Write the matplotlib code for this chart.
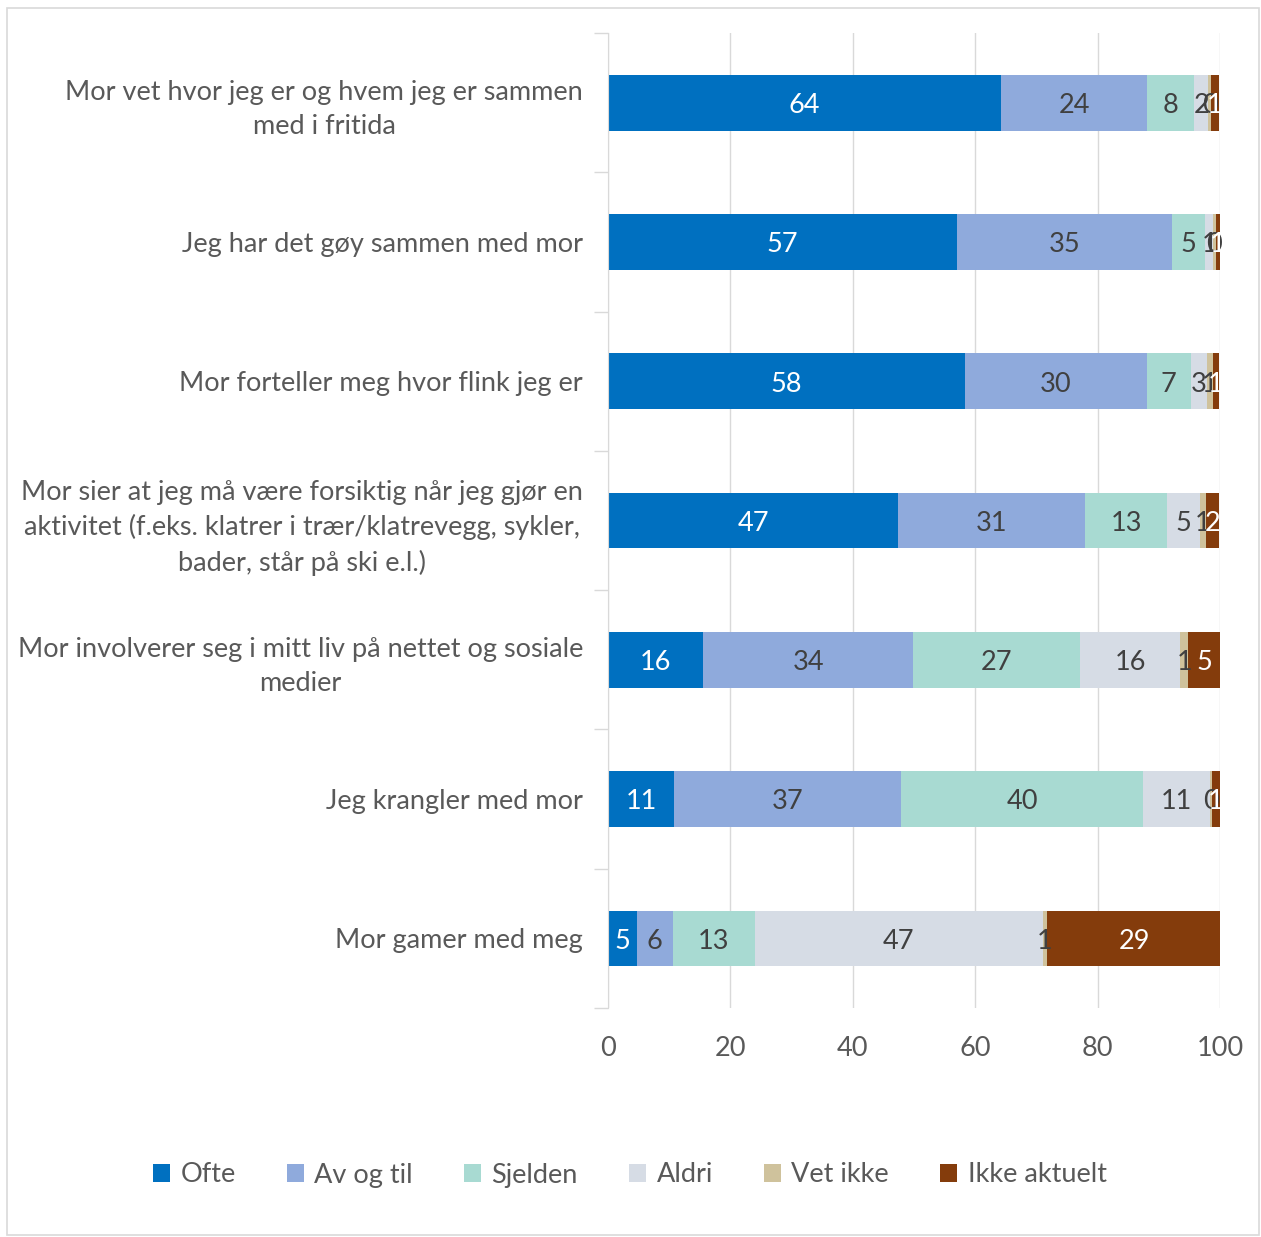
import matplotlib
matplotlib.use("Agg")
import matplotlib.pyplot as plt
from matplotlib.patches import Rectangle
import numpy as np

plt.rcParams['font.family'] = ['Lato', 'DejaVu Sans']

categories = [
    "Mor vet hvor jeg er og hvem jeg er sammen\nmed i fritida",
    "Jeg har det gøy sammen med mor",
    "Mor forteller meg hvor flink jeg er",
    "Mor sier at jeg må være forsiktig når jeg gjør en\naktivitet (f.eks. klatrer i trær/klatrevegg, sykler,\nbader, står på ski e.l.)",
    "Mor involverer seg i mitt liv på nettet og sosiale\nmedier",
    "Jeg krangler med mor",
    "Mor gamer med meg",
]
series_names = ["Ofte", "Av og til", "Sjelden", "Aldri", "Vet ikke", "Ikke aktuelt"]
ofte = [64.2, 57.0, 58.4, 47.4, 15.6, 10.8, 4.7]
av_og_til = [23.9, 35.2, 29.6, 30.6, 34.2, 37.1, 5.9]
sjelden = [7.7, 5.4, 7.3, 13.3, 27.4, 39.5, 13.4]
aldri = [2.3, 1.3, 2.6, 5.4, 16.3, 11.0, 47.1]
vet_ikke = [0.4, 0.4, 0.9, 1.0, 1.3, 0.3, 0.6]
ikke_aktuelt = [1.4, 0.7, 1.0, 2.1, 5.2, 1.3, 28.6]
x_ticks = [0, 20, 40, 60, 80, 100]

series = [ofte, av_og_til, sjelden, aldri, vet_ikke, ikke_aktuelt]
colors = ["#0070C0", "#8FAADC", "#A8DAD2", "#D6DCE5", "#CFC29C", "#843C0C"]
text_colors = ["white", "#404040", "#404040", "#404040", "#404040", "white"]

FS = 19.5
W, H = 1261, 1237
fig = plt.figure(figsize=(W / 100, H / 100), dpi=100)
fig.patches.append(Rectangle((7 / W, 1 - 1235 / H), 1252 / W, 1227 / H,
                             transform=fig.transFigure, fill=False,
                             edgecolor="#D9D9D9", linewidth=1.2))

ax = fig.add_axes([608 / W, 1 - 1008 / H, 612 / W, (1008 - 33) / H])
y = np.arange(len(categories))
left = np.zeros(len(categories))
for vals, name, c, tc in zip(series, series_names, colors, text_colors):
    vals = np.array(vals)
    bars = ax.barh(y, vals, left=left, height=0.4, color=c, label=name, zorder=3)
    for b, v in zip(bars, vals):
        ax.text(b.get_x() + b.get_width() / 2, b.get_y() + b.get_height() / 2 + 0.02,
                f"{round(v):d}", ha="center", va="center", color=tc,
                fontsize=FS, zorder=4)
    left += vals

ax.set_xlim(0, 100)
ax.set_ylim(len(categories) - 0.5, -0.5)
ax.set_xticks(x_ticks)
ax.set_xticklabels([str(t) for t in x_ticks], fontsize=FS, color="#595959")
ax.set_yticks(y)
ax.set_yticklabels(categories, fontsize=FS, color="#595959",
                   multialignment="center", linespacing=1.45)
ax.set_yticks(np.arange(len(categories) + 1) - 0.5, minor=True)
ax.tick_params(axis="y", which="major", length=0, pad=18)
ax.tick_params(axis="y", which="minor", length=10, color="#D9D9D9", width=1)
ax.tick_params(axis="x", length=0, pad=20)
ax.grid(axis="x", color="#D9D9D9", linewidth=1, zorder=0)
for s in ["top", "right", "bottom"]:
    ax.spines[s].set_visible(False)
ax.spines["left"].set_color("#D9D9D9")
ax.spines["left"].set_zorder(5)

handles, labels = ax.get_legend_handles_labels()
fig.legend(handles, labels, loc="center", bbox_to_anchor=(630 / W, 1 - 1175 / H),
           ncol=6, frameon=False, fontsize=FS, handlelength=0.6, handleheight=0.6,
           columnspacing=1.9, handletextpad=0.4, labelcolor="#595959")

fig.savefig("out.png", dpi=100)
